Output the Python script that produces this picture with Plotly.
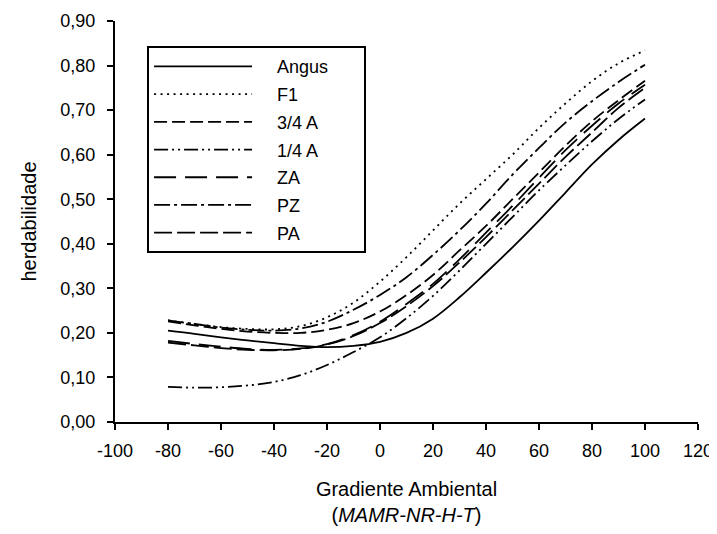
import plotly.graph_objects as go

x_vals = [-80, -70, -60, -50, -40, -30, -20, -10, 0, 10, 20, 30, 40, 50, 60, 70, 80, 90, 100]

angus = [0.205, 0.198, 0.190, 0.183, 0.177, 0.171, 0.168, 0.171, 0.180, 0.200, 0.232, 0.280, 0.335, 0.392, 0.452, 0.515, 0.578, 0.633, 0.681]
f1 = [0.228, 0.220, 0.213, 0.209, 0.208, 0.215, 0.235, 0.268, 0.315, 0.370, 0.430, 0.490, 0.545, 0.600, 0.660, 0.715, 0.765, 0.805, 0.834]
a34 = [0.226, 0.217, 0.209, 0.203, 0.200, 0.200, 0.207, 0.222, 0.248, 0.285, 0.330, 0.385, 0.440, 0.500, 0.560, 0.620, 0.675, 0.722, 0.766]
a14 = [0.079, 0.077, 0.078, 0.082, 0.090, 0.105, 0.128, 0.157, 0.190, 0.233, 0.283, 0.340, 0.400, 0.460, 0.520, 0.576, 0.630, 0.680, 0.724]
za = [0.182, 0.175, 0.169, 0.164, 0.162, 0.165, 0.175, 0.195, 0.225, 0.265, 0.310, 0.365, 0.425, 0.485, 0.548, 0.610, 0.665, 0.715, 0.757]
pz = [0.228, 0.220, 0.212, 0.207, 0.205, 0.210, 0.225, 0.252, 0.285, 0.325, 0.375, 0.430, 0.490, 0.555, 0.615, 0.672, 0.720, 0.763, 0.802]
pa = [0.178, 0.172, 0.166, 0.162, 0.161, 0.164, 0.174, 0.193, 0.222, 0.260, 0.305, 0.358, 0.415, 0.475, 0.535, 0.595, 0.650, 0.705, 0.750]

names = ["Angus", "F1", "3/4 A", "1/4 A", "ZA", "PZ", "PA"]
series = [angus, f1, a34, a14, za, pz, pa]
dashes = ["solid", "2px,4.5px", "13px,5px", "14px,4px,2px,4px,2px,4px",
          "22px,9px", "16px,4px,3px,4px", "18px,5px"]

x_ticks = list(range(-100, 121, 20))
x_ticktext = [str(v) for v in x_ticks]
y_ticks = [i / 10 for i in range(0, 10)]
y_ticktext = [f"{v:.2f}".replace(".", ",") for v in y_ticks]

NB = "\u00a0"
fig = go.Figure()
for nm, ys, ds in zip(names, series, dashes):
    fig.add_trace(go.Scatter(x=x_vals, y=ys, mode="lines",
                             name=NB * 4 + nm + NB * 6, legendgroup=nm,
                             line=dict(color="black", width=1.8, dash=ds, shape="spline")))

font_family = "Liberation Sans, Arial, sans-serif"
# page body has an 8px margin; figure sized to fit the 717x534 window
fig.update_layout(
    width=709, height=526,
    margin=dict(l=107, r=19, t=13, b=112),
    paper_bgcolor="white", plot_bgcolor="white",
    font=dict(family=font_family, size=18, color="black"),
    showlegend=True,
    legend=dict(x=0.055, y=0.937, xanchor="left", yanchor="top",
                bordercolor="black", borderwidth=2, bgcolor="white",
                itemwidth=98, font=dict(size=18),
                tracegroupgap=1.3),
    xaxis=dict(range=[-100, 120], tickvals=x_ticks, ticktext=x_ticktext,
               showgrid=False, zeroline=False, automargin=False,
               showline=True, linecolor="black", linewidth=2,
               ticks="outside", ticklen=6, tickwidth=1.5, tickcolor="black",
               tickfont=dict(size=18), ticklabelstandoff=5,
               title=dict(text="Gradiente Ambiental<br>(<i>MAMR-NR-H-T</i>)", standoff=22,
                          font=dict(size=20))),
    yaxis=dict(range=[0, 0.9], tickvals=y_ticks, ticktext=y_ticktext,
               showgrid=False, zeroline=False, automargin=False,
               showline=True, linecolor="black", linewidth=2,
               ticks="outside", ticklen=6, tickwidth=1.5, tickcolor="black",
               tickfont=dict(size=18), ticklabelstandoff=8,
               title=dict(text="herdabilidade", standoff=18, font=dict(size=20))),
)

fig.write_html("out.html")
